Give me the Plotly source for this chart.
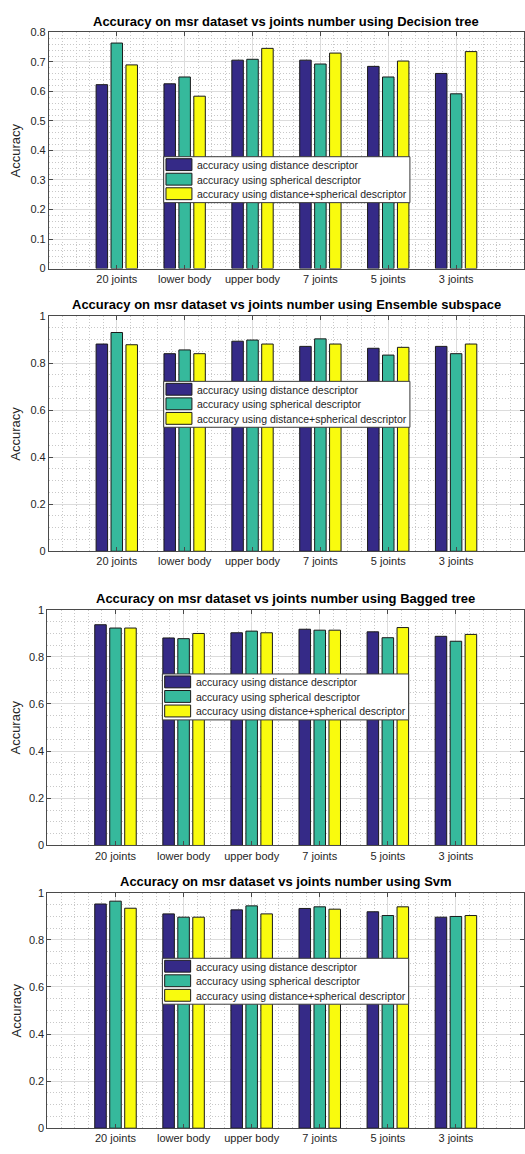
import plotly.graph_objects as go

W, H = 525, 1154

categories = ["20 joints", "lower body", "upper body", "7 joints", "5 joints", "3 joints"]
series_names = [
    "accuracy using distance descriptor",
    "accuracy using spherical descriptor",
    "accuracy using distance+spherical descriptor",
]
colors = ["#352A87", "#36B99C", "#F9FB0E"]

# Decision tree
dt_distance = [0.623, 0.626, 0.706, 0.706, 0.685, 0.661]
dt_spherical = [0.764, 0.649, 0.709, 0.693, 0.649, 0.592]
dt_combined = [0.690, 0.584, 0.746, 0.730, 0.703, 0.735]

# Ensemble subspace
es_distance = [0.881, 0.840, 0.893, 0.871, 0.863, 0.871]
es_spherical = [0.930, 0.856, 0.898, 0.903, 0.834, 0.840]
es_combined = [0.878, 0.840, 0.881, 0.881, 0.867, 0.881]

# Bagged tree
bt_distance = [0.936, 0.880, 0.902, 0.917, 0.906, 0.887]
bt_spherical = [0.922, 0.877, 0.909, 0.913, 0.881, 0.866]
bt_combined = [0.922, 0.899, 0.902, 0.913, 0.924, 0.895]

# Svm
svm_distance = [0.952, 0.910, 0.927, 0.933, 0.919, 0.896]
svm_spherical = [0.964, 0.896, 0.944, 0.940, 0.903, 0.899]
svm_combined = [0.934, 0.896, 0.910, 0.930, 0.940, 0.903]

panels = [
    dict(title="Accuracy on msr dataset vs joints number using Decision tree",
         series=[dt_distance, dt_spherical, dt_combined],
         ymax=0.8, dtick=0.1, minor=0.02,
         left=49, top=26.7, bottom=265.3, legend=(164, 152.3)),
    dict(title="Accuracy on msr dataset vs joints number using Ensemble subspace",
         series=[es_distance, es_spherical, es_combined],
         ymax=1.0, dtick=0.2, minor=0.05,
         left=49, top=313.3, bottom=551, legend=(164, 379.3)),
    dict(title="Accuracy on msr dataset vs joints number using Bagged tree",
         series=[bt_distance, bt_spherical, bt_combined],
         ymax=1.0, dtick=0.2, minor=0.05,
         left=47.5, top=610, bottom=848.3, legend=(162.7, 675)),
    dict(title="Accuracy on msr dataset vs joints number using Svm",
         series=[svm_distance, svm_spherical, svm_combined],
         ymax=1.0, dtick=0.2, minor=0.05,
         left=47.5, top=896, bottom=1134, legend=(162.7, 962.3)),
]


def fx(px):
    return px / W


def fy(py):
    return 1 - py / H


TEXT = "#262626"
AXIS = "#4a4a4a"
FONT = "Liberation Sans, Arial, sans-serif"
MINOR_GRID = dict(showgrid=True, gridcolor="#c8c8c8", griddash="1px,2px", gridwidth=1)

fig = go.Figure()
layout = dict(
    width=W, height=H,
    margin=dict(l=0, r=0, t=0, b=0),
    paper_bgcolor="white", plot_bgcolor="white",
    barmode="group", bargap=0.34, bargroupgap=0.23,
    showlegend=False,
    font=dict(family=FONT, color=TEXT),
)
annotations = []
shapes = []
xpos = list(range(len(categories)))

for i, p in enumerate(panels):
    n = "" if i == 0 else str(i + 1)
    xa, ya = "x" + n, "y" + n
    for name, vals, col in zip(series_names, p["series"], colors):
        fig.add_trace(go.Bar(
            x=xpos, y=vals, name=name, xaxis=xa, yaxis=ya,
            marker=dict(color=col, line=dict(color="#1a1a1a", width=1)),
        ))
    common = dict(
        showline=True, linecolor=AXIS, linewidth=1, mirror="ticks",
        ticks="inside", ticklen=4, tickcolor=AXIS,
        showgrid=True, gridcolor="#dcdcdc", gridwidth=1,
        zeroline=False, tickfont=dict(size=11, color=TEXT, family=FONT),
    )
    layout["xaxis" + n] = dict(
        common, domain=[fx(p["left"]), 1.0], anchor=ya,
        range=[-1, len(categories)], tickvals=xpos, ticktext=categories,
        minor=dict(MINOR_GRID, dtick=0.2, tick0=-1),
    )
    layout["yaxis" + n] = dict(
        common, domain=[fy(p["bottom"]), fy(p["top"])], anchor=xa,
        range=[0, p["ymax"]], dtick=p["dtick"], tick0=0,
        minor=dict(MINOR_GRID, dtick=p["minor"], tick0=0),
    )
    # panel title
    annotations.append(dict(
        text="<b>" + p["title"] + "</b>", xref="paper", yref="paper",
        x=fx((p["left"] + W) / 2), y=fy(p["top"] - 11.5),
        xanchor="center", yanchor="middle", showarrow=False,
        font=dict(size=13, color="#000000", family=FONT),
    ))
    # y axis label
    annotations.append(dict(
        text="Accuracy", xref="paper", yref="paper", textangle=-90,
        x=fx(16), y=fy((p["top"] + p["bottom"]) / 2),
        xanchor="center", yanchor="middle", showarrow=False,
        font=dict(size=13, color=TEXT, family=FONT),
    ))
    # legend box
    lx, ly = p["legend"]
    shapes.append(dict(
        type="rect", xref="paper", yref="paper",
        x0=fx(lx), x1=fx(lx + 246.7), y0=fy(ly), y1=fy(ly + 46.4),
        fillcolor="white", line=dict(color="#3a3a3a", width=1), layer="above",
    ))
    for k, (name, col) in enumerate(zip(series_names, colors)):
        sy = ly + 2 + k * 14.7
        shapes.append(dict(
            type="rect", xref="paper", yref="paper",
            x0=fx(lx + 2.3), x1=fx(lx + 28.3), y0=fy(sy), y1=fy(sy + 12),
            fillcolor=col, line=dict(color="#1a1a1a", width=1), layer="above",
        ))
        annotations.append(dict(
            text=name, xref="paper", yref="paper",
            x=fx(lx + 31.5), y=fy(sy + 6.5), xanchor="left", yanchor="middle",
            showarrow=False, font=dict(size=10.5, color=TEXT, family=FONT),
        ))

layout["annotations"] = annotations
layout["shapes"] = shapes
fig.update_layout(**layout)
fig.write_html("out.html")
